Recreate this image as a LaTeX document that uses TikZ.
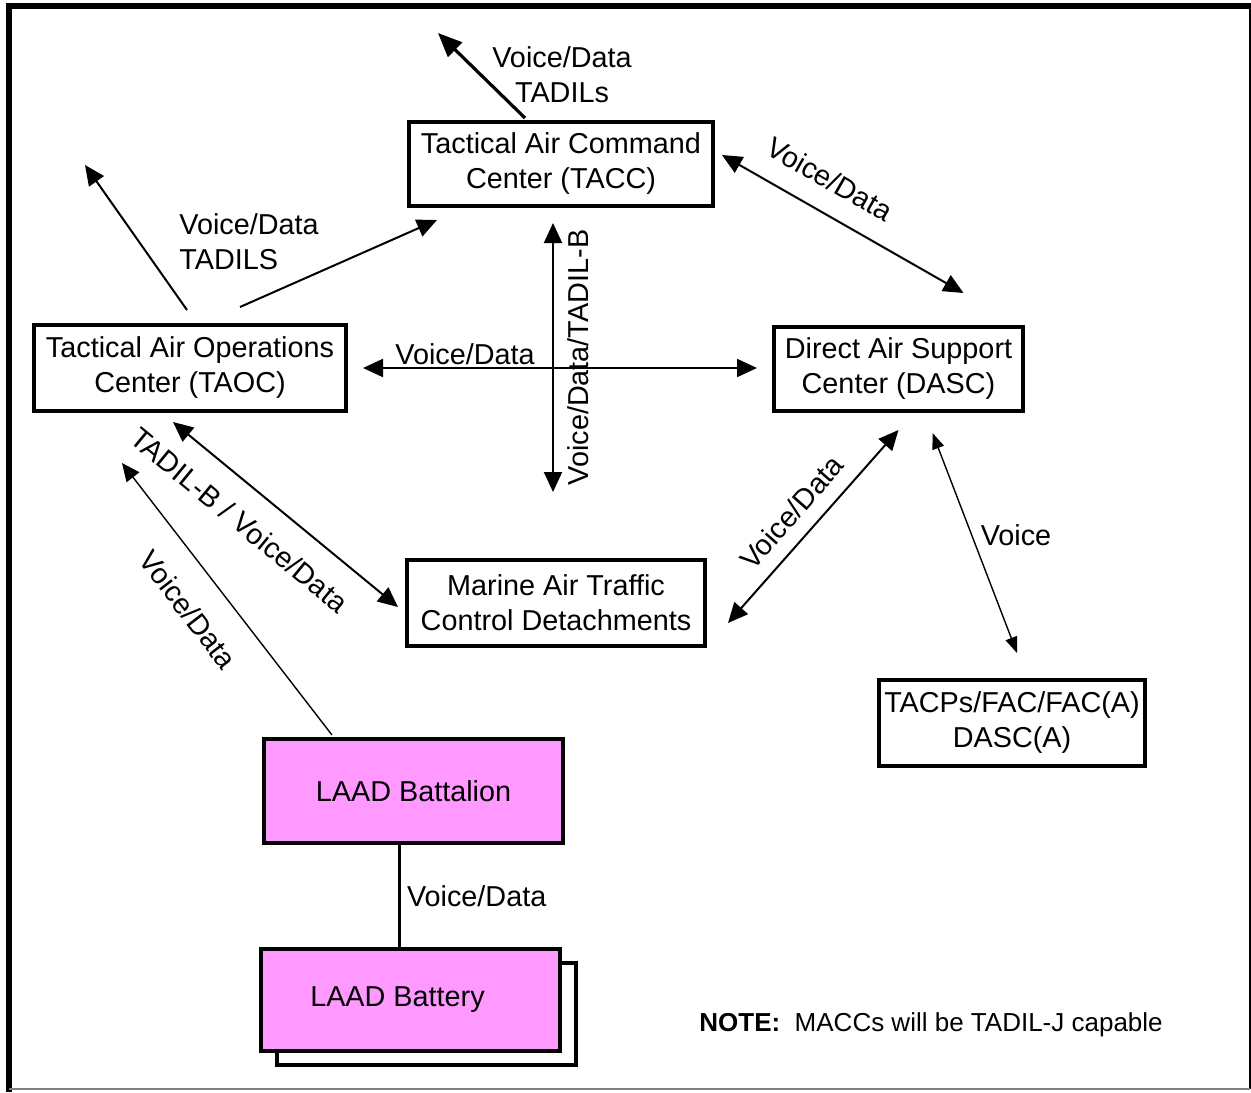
\documentclass[tikz,border=0pt]{standalone}
\usepackage{fontspec}
\setmainfont{Liberation Sans}
\usepackage{xcolor}
\usepackage{tikz}
\usetikzlibrary{arrows.meta,calc,positioning}
\definecolor{laadpink}{HTML}{FF99FF}

\begin{document}
\begin{tikzpicture}[
        x=0.5pt, y=-0.5pt,
        every node/.style={font=\fontsize{14.4}{17.5}\selectfont, inner sep=1pt},
        box/.style={draw, line width=2pt, align=center, fill=white},
        laad/.style={box, fill=laadpink},
        link/.style={line width=1pt},
        thinlink/.style={line width=0.7pt},
        boldlink/.style={line width=1.6pt},
        onetip/.style={-{Triangle[length=10pt,width=9pt]}},
        bigtip/.style={-{Triangle[length=12pt,width=10pt]}},
        revtip/.style={{Triangle[length=9pt,width=8pt]}-},
        twotips/.style={{Triangle[length=10pt,width=9pt]}-{Triangle[length=10pt,width=9pt]}},
        smalltips/.style={{Triangle[length=8pt,width=6pt]}-{Triangle[length=8pt,width=6pt]}},
    ]
        \useasboundingbox (0,0) rectangle (1251,1092);
        \draw[line width=3pt] (9,1092) -- (9,6) -- (1251,6);
        \draw[line width=1pt] (1250,6) -- (1250,1089);
        \draw[gray, line width=0.6pt] (9,1089) -- (1250,1089);

        \node [box, minimum width=152pt, minimum height=42pt] (tacc) at (561,164) {Tactical Air Command\\Center (TACC)};
        \node [box, minimum width=156pt, minimum height=43pt] (taoc) at (190,368) {Tactical Air Operations\\Center (TAOC)};
        \node [box, minimum width=124.5pt, minimum height=42pt] (dasc) at (898.5,369) {Direct Air Support\\Center (DASC)};
        \node [box, minimum width=149pt, minimum height=43pt] (matc) at (556,603) {Marine Air Traffic\\Control Detachments};
        \node [box, minimum width=133pt, minimum height=43pt] (tacp) at (1012,723) {TACPs/FAC/FAC(A)\\DASC(A)};
        \node [laad, minimum width=149.5pt, minimum height=52pt] (bn) at (413.5,791) {LAAD Battalion};
        \node [box, minimum width=149.5pt, minimum height=51pt] (btyshadow) at (426.5,1014) {};
        \node [laad, minimum width=149.5pt, minimum height=51pt] (bty) at (410.5,1000) {LAAD Battery\hspace*{13pt}};

        \coordinate (taccup) at (438,33);
        \coordinate (taocup) at (85,165);
        \coordinate (bnfoot) at ($(bn.south)+(-14,0)$);

        \draw [boldlink, bigtip] ($(tacc.north)+(-36,-2)$) -- (taccup);
        \node [align=center] (tadils) at (562,75) {Voice/Data\\TADILs};
        \draw [link, onetip] ($(taoc.north)+(-3,-13)$) -- (taocup);
        \draw [link, onetip] ($(taoc.north)+(50,-16)$) -- ($(tacc.south west)+(30,12)$);
        \node [align=left, anchor=west] (tadilsb) at (177,242) {Voice/Data\\TADILS};

        \draw [link, twotips, shorten <=7.5pt, shorten >=7.5pt] (taoc.east) -- (taoc.east -| dasc.west)
            node [pos=0.276, above=0pt] {Voice/Data};
        \draw [link, twotips] ($(matc.north)+(-3,-66)$) -- ($(tacc.south)+(-8,15)$)
            node [pos=0.5, sloped, below=6pt] {Voice/Data/TADIL-B};
        \draw [link, twotips] ($(tacc.east)+(7,-9)$) -- ($(dasc.north)+(65,-32)$)
            node [pos=0.38, sloped, above=9.5pt] {Voice/Data};
        \draw [link, twotips] ($(taoc.south)+(-17,9)$) -- ($(matc.west)+(-7,4)$)
            node [pos=0.39, sloped, below=10pt] {TADIL-B / Voice/Data};
        \draw [thinlink, revtip] ($(taoc.south)+(-68,50)$) -- ($(bn.north west)+(70,-2)$)
            node [pos=0.456, sloped, below=12pt] {Voice/Data};
        \draw [link, twotips] ($(matc.east)+(21,20)$) -- ($(dasc.south)+(0,17)$)
            node [pos=0.486, sloped, above=6pt] {Voice/Data};
        \draw [thinlink, smalltips] ($(dasc.south)+(34,20)$) -- ($(tacp.north)+(5,-25)$);
        \node (voice) at (1016,535) {Voice};

        \draw [line width=1.5pt] (bnfoot) -- (bnfoot |- bty.north)
            node [pos=0.5, right=2pt] {Voice/Data};

        \node [anchor=west, font=\fontsize{13}{16}\selectfont] (note) at (697,1025) {\textbf{NOTE:}\ \ MACCs will be TADIL-J capable};
    \end{tikzpicture}
\end{document}
